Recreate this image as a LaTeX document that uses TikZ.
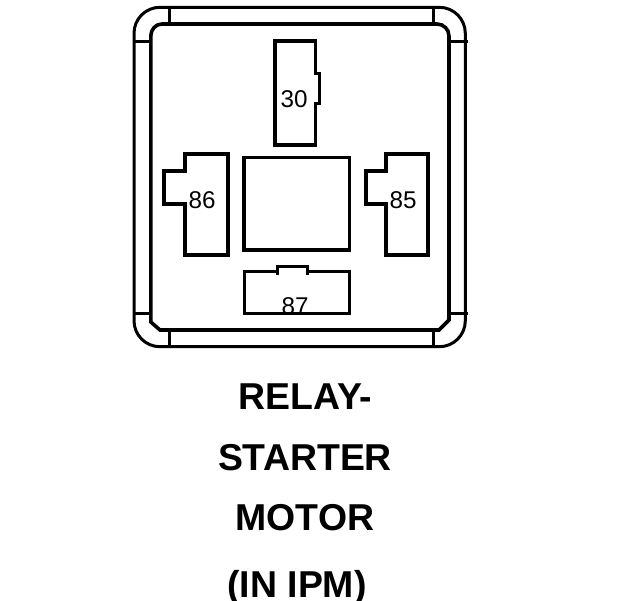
\documentclass[tikz,border=0pt]{standalone}
\usepackage{fontspec}
\setmainfont{Liberation Sans}
\tikzset{
 thick line/.style={line width=0.036cm, line join=miter},
 thin line/.style={line width=0.03cm},
 pin label/.style={anchor=base, inner sep=0pt, font=\fontsize{6.9}{8}\selectfont},
 title label/.style={anchor=base, inner sep=0pt, font=\fontsize{10.65}{12}\selectfont\bfseries}
}
\begin{document}
\begin{tikzpicture}
 \useasboundingbox (0, 0) rectangle (6.24, -6);
 % housing
 \draw[thin line, rounded corners=0.26cm] (1.34, -0.073) rectangle (4.653, -3.467);
 \draw[thick line] (1.69, -0.24) -- (4.37, -0.24) to[out=0, in=90] (4.49, -0.36) -- (4.49, -3.2) -- (4.39, -3.3) -- (1.6, -3.3) -- (1.508, -3.22) -- (1.508, -0.36) to[out=90, in=180] (1.62, -0.24) -- cycle;
 \foreach \tickx in {1.69, 4.33} {
  \draw[thin line] (\tickx, -0.073) -- (\tickx, -0.24);
  \draw[thin line] (\tickx, -3.3) -- (\tickx, -3.467);
 }
 \foreach \ticky in {-0.41, -3.133} {
  \draw[thin line] (1.34, \ticky) -- (1.508, \ticky);
  \draw[thin line] (4.49, \ticky) -- (4.675, \ticky);
 }
 % terminals
 \draw[thick line] (3.153, -0.73) -- (3.153, -0.408) -- (2.747, -0.408) -- (2.747, -1.45) -- (3.153, -1.45) -- (3.153, -1.037);
 \draw[thin line] (3.135, -0.73) -- (3.19, -0.73) -- (3.19, -1.037) -- (3.135, -1.037);
 \draw[thick line] (1.85, -1.71) -- (1.85, -1.54) -- (2.277, -1.54) -- (2.277, -2.55) -- (1.85, -2.55) -- (1.85, -2.037) -- (1.64, -2.037) -- (1.64, -1.71) -- cycle;
 \draw[thick line] (3.86, -1.71) -- (3.86, -1.54) -- (4.28, -1.54) -- (4.28, -2.55) -- (3.86, -2.55) -- (3.86, -2.037) -- (3.66, -2.037) -- (3.66, -1.71) -- cycle;
 \draw[thick line] (2.44, -1.575) rectangle (3.493, -2.5);
 \draw[thin line] (2.777, -2.71) -- (2.44, -2.71) -- (2.44, -3.133) -- (3.493, -3.133) -- (3.493, -2.71) -- (3.077, -2.71);
 \draw[thin line] (2.777, -2.747) -- (2.777, -2.66) -- (3.077, -2.66) -- (3.077, -2.747);
 \node[pin label] (t30) at (2.94, -1.07) {30};
 \node[pin label] (t86) at (2.02, -2.08) {86};
 \node[pin label] (t85) at (4.03, -2.08) {85};
 \node[pin label] (t87) at (2.95, -3.14) {87};
 % title
 \node[title label] (relay) at (3.055, -4.09) {RELAY-};
 \node[title label] (starter) at (3.05, -4.70) {STARTER};
 \node[title label] (motor) at (3.05, -5.30) {MOTOR};
 \node[title label] (ipm) at (2.97, -5.97) {(IN IPM)};
\end{tikzpicture}
\end{document}
